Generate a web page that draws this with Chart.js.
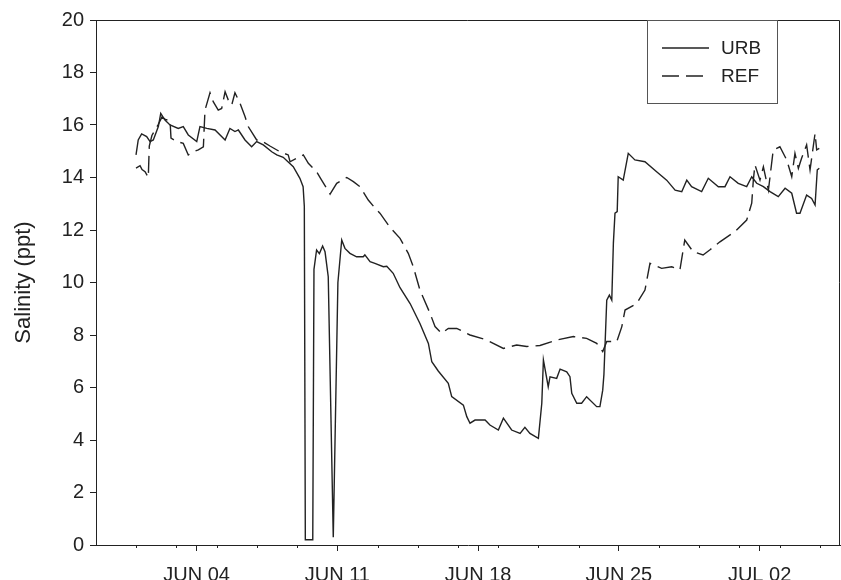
<!DOCTYPE html>
<html lang="en">
<head>
<meta charset="UTF-8">
<title>Salinity</title>
<script src="https://cdn.jsdelivr.net/npm/chart.js@4.4.0/dist/chart.umd.min.js"></script>
<style>
  html, body { margin: 0; padding: 0; overflow: hidden; background: #fff; }
  .chart-container { position: relative; width: 841px; height: 600px; }
</style>
</head>
<body>
<div class="chart-container"><canvas id="chart"></canvas></div>
<script>
// x = days counted from May 30 (0) -> JUN 04 = 5
const urbDays = [1.99,2.10,2.27,2.52,2.69,2.85,3.10,3.22,3.43,3.68,4.09,4.34,4.59,5.01,5.17,5.51,5.92,6.42,6.66,6.91,
  7.08,7.41,7.74,7.99,8.32,8.74,8.99,9.31,9.81,10.14,10.30,10.36,10.41,10.78,10.84,10.97,11.11,11.27,11.39,11.55,
  11.80,12.03,12.22,12.38,12.63,12.96,13.29,13.37,13.63,13.87,14.29,14.46,14.78,15.12,15.62,16.11,16.53,16.70,17.02,17.52,
  17.69,18.27,18.44,18.60,18.85,19.35,19.59,20.01,20.26,20.67,21.09,21.33,21.58,22.00,22.17,22.25,22.49,22.58,22.91,23.08,
  23.41,23.57,23.66,23.91,24.15,24.40,24.90,25.06,25.20,25.26,25.40,25.53,25.65,25.73,25.81,25.92,25.97,26.22,26.47,26.80,
  27.30,27.88,28.38,28.80,29.13,29.38,29.62,30.12,30.45,30.95,31.28,31.53,31.94,32.36,32.61,32.86,33.19,33.52,33.93,34.27,
  34.60,34.84,35.01,35.34,35.59,35.76,35.87,35.97];
const urbSalinity = [14.86,15.43,15.66,15.56,15.37,15.43,15.94,16.44,16.19,16.0,15.87,15.94,15.62,15.37,15.94,15.87,15.81,15.43,15.87,15.75,
  15.81,15.43,15.17,15.37,15.24,14.98,14.86,14.77,14.41,13.97,13.65,12.9,0.2,0.2,10.5,11.24,11.1,11.39,11.17,10.22,
  0.3,10.0,11.62,11.3,11.11,10.98,10.98,11.05,10.79,10.73,10.6,10.62,10.35,9.8,9.2,8.44,7.68,6.98,6.63,6.16,
  5.65,5.33,4.89,4.64,4.76,4.76,4.57,4.38,4.83,4.38,4.25,4.48,4.25,4.06,5.4,7.05,6.03,6.41,6.35,6.7,
  6.6,6.41,5.78,5.4,5.4,5.65,5.27,5.27,5.9,6.5,9.33,9.52,9.33,11.5,12.64,12.7,14.03,13.9,14.92,14.67,
  14.6,14.22,13.9,13.52,13.46,13.9,13.65,13.46,13.97,13.65,13.65,14.03,13.78,13.65,14.03,13.78,13.65,13.46,13.27,13.59,
  13.4,12.64,12.64,13.33,13.2,12.95,14.29,14.35];

const refDays = [1.99,2.19,2.29,2.44,2.60,2.65,2.78,3.08,3.28,3.48,3.68,3.73,4.01,4.34,4.59,4.84,5.09,5.34,5.42,5.67,
  5.83,6.08,6.25,6.42,6.58,6.75,6.91,7.16,7.41,7.57,7.99,8.16,8.65,9.15,9.56,9.65,10.31,10.56,10.97,11.22,
  11.64,11.97,12.47,12.80,13.13,13.54,13.96,14.12,14.62,15.12,15.53,15.78,16.11,16.61,16.86,17.19,17.52,17.94,18.60,19.43,
  20.26,20.92,21.42,22.08,22.91,23.74,24.40,24.90,25.20,25.40,25.90,26.15,26.31,26.89,27.30,27.55,28.13,28.63,29.04,29.28,
  29.70,30.19,30.52,31.03,31.78,32.36,32.61,32.69,32.77,33.02,33.19,33.44,33.52,33.68,34.01,34.35,34.60,34.76,34.93,35.09,
  35.34,35.51,35.76,35.84,35.97];
const refSalinity = [14.36,14.45,14.3,14.22,14.0,15.2,15.6,16.0,16.3,16.2,16.19,15.5,15.37,15.3,14.86,14.98,15.05,15.17,16.57,17.23,
  16.89,16.57,16.63,17.27,16.95,16.76,17.23,16.83,16.32,15.94,15.43,15.43,15.2,14.98,14.86,14.6,14.86,14.54,14.22,13.9,
  13.37,13.78,14.0,13.84,13.65,13.14,12.76,12.64,12.1,11.68,11.11,10.6,9.71,8.83,8.32,8.06,8.25,8.25,8.0,7.81,
  7.49,7.62,7.56,7.6,7.81,7.94,7.87,7.68,7.37,7.75,7.75,8.32,8.95,9.2,9.71,10.73,10.54,10.6,10.48,11.62,
  11.17,11.05,11.24,11.55,11.94,12.38,13.02,13.9,14.48,13.9,14.41,13.52,14.03,15.05,15.17,14.67,14.03,14.92,14.35,14.73,
  15.24,14.29,15.68,15.05,15.11];

const xTickDays = [5, 12, 19, 26, 33];
const xTickLabels = ['JUN 04', 'JUN 11', 'JUN 18', 'JUN 25', 'JUL 02'];
const minorTickDays = [2, 4, 6, 8, 10, 14, 16, 18, 20, 22, 24, 28, 30, 32, 34, 36];

const ink = '#222';
const fontFamily = '"Liberation Sans", Arial, sans-serif';

const toPoints = (xs, ys) => xs.map((x, i) => ({ x: x, y: ys[i] }));

// box round the plot (top and right edges)
const frame = {
  id: 'frame',
  afterDatasetsDraw(chart) {
    const { ctx, chartArea: a } = chart;
    ctx.save();
    ctx.strokeStyle = ink;
    ctx.lineWidth = 1;
    ctx.beginPath();
    ctx.moveTo(a.left, a.top + 0.5);
    ctx.lineTo(a.right - 0.5, a.top + 0.5);
    ctx.lineTo(a.right - 0.5, a.bottom);
    ctx.stroke();
    ctx.restore();
  }
};

const minorTicks = {
  id: 'minorTicks',
  afterDraw(chart) {
    const { ctx } = chart;
    const xs = chart.scales.x;
    ctx.save();
    ctx.strokeStyle = ink;
    ctx.lineWidth = 1;
    minorTickDays.forEach(d => {
      const px = Math.round(xs.getPixelForValue(d)) + 0.5;
      ctx.beginPath();
      ctx.moveTo(px, xs.top);
      ctx.lineTo(px, xs.top + 3);
      ctx.stroke();
    });
    ctx.restore();
  }
};

const legendBox = {
  id: 'legendBox',
  afterDraw(chart) {
    const { ctx, chartArea: a } = chart;
    const left = a.right - 193, top = a.top, w = 130, h = 83;
    ctx.save();
    ctx.fillStyle = '#fff';
    ctx.fillRect(left, top, w, h);
    ctx.strokeStyle = '#555';
    ctx.lineWidth = 1;
    ctx.strokeRect(left + 0.5, top + 0.5, w, h);
    ctx.font = '19px ' + fontFamily;
    ctx.textBaseline = 'middle';
    chart.data.datasets.forEach((ds, i) => {
      const y = top + 28 + i * 28;
      ctx.strokeStyle = ds.borderColor;
      ctx.lineWidth = ds.borderWidth;
      ctx.setLineDash(ds.borderDash || []);
      ctx.beginPath();
      ctx.moveTo(left + 15, y);
      ctx.lineTo(left + 62, y);
      ctx.stroke();
      ctx.setLineDash([]);
      ctx.fillStyle = ink;
      ctx.fillText(ds.label, left + 74, y + 1);
    });
    ctx.restore();
  }
};

const ctx = document.getElementById('chart').getContext('2d');
new Chart(ctx, {
  type: 'line',
  data: {
    datasets: [
      { label: 'URB', data: toPoints(urbDays, urbSalinity), borderColor: ink, borderWidth: 1.4,
        pointRadius: 0, tension: 0, fill: false },
      { label: 'REF', data: toPoints(refDays, refSalinity), borderColor: ink, borderWidth: 1.4,
        borderDash: [17, 7], pointRadius: 0, tension: 0, fill: false }
    ]
  },
  options: {
    responsive: true,
    maintainAspectRatio: false,
    animation: false,
    layout: { padding: { top: 20, right: 1, left: 0, bottom: 0 } },
    plugins: { legend: { display: false }, tooltip: { enabled: false } },
    scales: {
      x: {
        type: 'linear', min: 0, max: 37,
        afterBuildTicks: s => { s.ticks = xTickDays.map(v => ({ value: v })); },
        afterFit: s => { s.height = 55; },
        ticks: {
          callback: v => xTickLabels[xTickDays.indexOf(v)],
          font: { family: fontFamily, size: 20 }, color: ink,
          padding: 12, maxRotation: 0, autoSkip: false
        },
        grid: { drawOnChartArea: false, tickLength: 6, color: ink, tickColor: ink },
        border: { color: ink, width: 1 }
      },
      y: {
        min: 0, max: 20,
        afterFit: s => { s.width = 96; },
        ticks: { stepSize: 2, font: { family: fontFamily, size: 20 }, color: ink, padding: 6 },
        grid: { drawOnChartArea: false, tickLength: 6, color: ink, tickColor: ink },
        border: { color: ink, width: 1 },
        title: { display: true, text: 'Salinity (ppt)', color: ink,
          font: { family: fontFamily, size: 22 }, padding: { top: 11, bottom: 0 } }
      }
    }
  },
  plugins: [frame, minorTicks, legendBox]
});
</script>
</body>
</html>
